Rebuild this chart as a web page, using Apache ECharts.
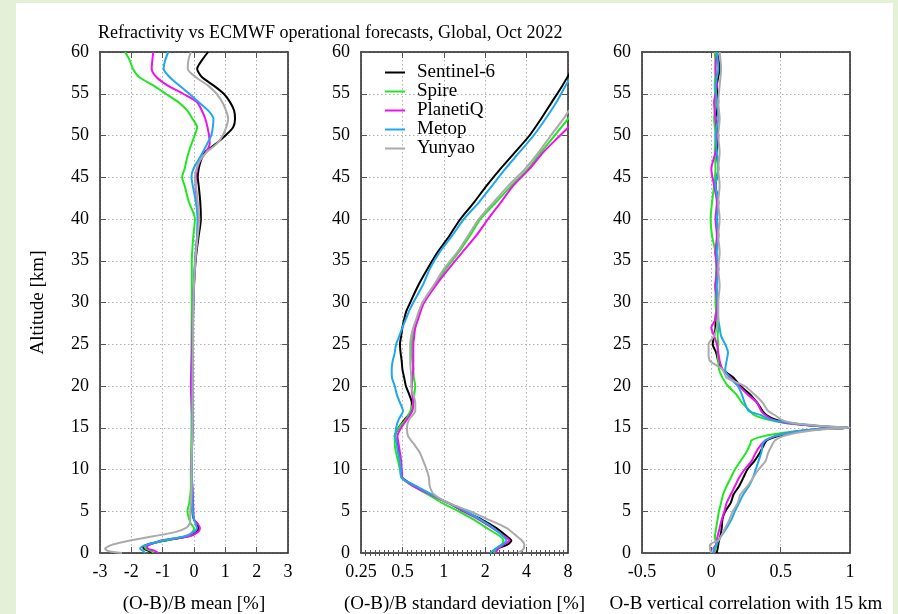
<!DOCTYPE html>
<html>
<head>
<meta charset="utf-8">
<script src="https://cdn.jsdelivr.net/npm/echarts@6/dist/echarts.min.js"></script>
<style>
  html, body { margin: 0; padding: 0; background: #e4f1d6; overflow: hidden; }
  .sheet { position: absolute; left: 16px; top: 3px; width: 877px; height: 611px; background: #fff; }
  #chart { position: absolute; left: 0; top: 0; width: 898px; height: 614px; }
</style>
</head>
<body>
<div class="sheet"></div>
<div id="chart"></div>
<script>
// names and colours of the missions
const missions = ['Sentinel-6', 'Spire', 'PlanetiQ', 'Metop', 'Yunyao'];
const colors = ['#000000', '#22e622', '#ee11ee', '#1ea8ee', '#aaaaaa'];

// panel 1: (O-B)/B mean [%]
const altMean = [0, 0.25, 0.5, 0.75, 1, 1.5, 2, 2.5, 3, 3.5, 4, 5, 6, 8, 10, 15, 20, 25, 30, 35,
  38, 40, 42, 44, 45, 46, 47, 48, 49, 50, 51, 52, 53, 54, 55, 56, 57, 58, 59, 60];
const meanSentinel6 = [-1.3, -1.45, -1.6, -1.62, -1.5, -0.9, -0.2, 0.08, 0.14, 0.1,
  0.0, -0.05, -0.05, -0.06, -0.08, -0.05, -0.05, -0.04, -0.02, 0.05,
  0.15, 0.22, 0.2, 0.15, 0.12, 0.15, 0.22, 0.35, 0.7, 1.0,
  1.25, 1.31, 1.28, 1.15, 0.95, 0.62, 0.25, 0.1, 0.25, 0.45];
const meanSpire = [-1.3, -1.37, -1.53, -1.56, -1.45, -0.95, -0.23, -0.05, 0.0, -0.1,
  -0.15, -0.21, -0.15, -0.1, -0.1, -0.08, -0.08, -0.08, -0.07, -0.07,
  -0.02, 0.03, -0.16, -0.3, -0.38, -0.3, -0.24, -0.17, -0.08, 0.02,
  0.1, -0.05, -0.22, -0.5, -0.9, -1.3, -1.75, -1.95, -2.05, -2.2];
const meanPlanetiQ = [-1.14, -1.25, -1.46, -1.5, -1.4, -1.05, -0.15, 0.12, 0.19, 0.12,
  0.0, -0.02, -0.03, -0.05, -0.08, -0.05, -0.1, -0.06, -0.03, 0.04,
  0.1, 0.12, 0.1, 0.05, 0.06, 0.1, 0.19, 0.38, 0.5, 0.48,
  0.43, 0.36, 0.25, 0.09, -0.35, -0.85, -1.2, -1.35, -1.33, -1.3];
const meanMetop = [-1.56, -1.62, -1.72, -1.67, -1.5, -1.0, -0.3, -0.02, 0.09, 0.05,
  0.0, -0.04, -0.05, -0.06, -0.07, -0.05, -0.05, -0.04, -0.02, 0.03,
  0.1, 0.12, 0.06, -0.04, -0.08, -0.02, 0.13, 0.28, 0.42, 0.55,
  0.6, 0.62, 0.45, 0.15, -0.15, -0.47, -0.78, -0.97, -0.92, -0.82];
const meanYunyao = [-2.3, -2.74, -2.84, -2.75, -2.6, -2.04, -1.3, -0.6, -0.25, -0.14,
  -0.12, -0.12, -0.1, -0.08, -0.08, -0.05, -0.04, -0.03, -0.02, 0.04,
  0.12, 0.17, 0.12, 0.06, 0.03, 0.08, 0.19, 0.4, 0.72, 0.92,
  1.03, 1.09, 1.02, 0.9, 0.72, 0.44, 0.05, -0.2, -0.18, -0.1];

// panel 2: (O-B)/B standard deviation [%]
const altStd = [0, 0.5, 1, 1.5, 2, 3, 4, 5, 6, 7, 8, 9, 10, 11, 12, 13, 14, 15, 16, 17,
  18, 19, 20, 21, 22, 23, 24, 25, 26, 27, 28, 29, 30, 32, 34, 36, 38, 40, 42, 44,
  46, 48, 50, 52, 54, 56, 58, 60];
const stdSentinel6 = [2.25, 2.4, 2.9, 3.1, 2.87, 2.4, 1.89, 1.4, 1.08, 0.8,
  0.62, 0.5, 0.49, 0.48, 0.47, 0.46, 0.44, 0.47, 0.52, 0.58,
  0.585, 0.56, 0.53, 0.515, 0.5, 0.494, 0.485, 0.48, 0.49, 0.5,
  0.515, 0.535, 0.57, 0.65, 0.76, 0.9, 1.1, 1.32, 1.66, 2.05,
  2.58, 3.3, 4.2, 5.1, 6.1, 7.3, 8.6, 10.2];
const stdSpire = [2.3, 2.4, 2.64, 2.71, 2.56, 2.05, 1.65, 1.28, 0.97, 0.77,
  0.6, 0.494, 0.48, 0.465, 0.45, 0.44, 0.44, 0.47, 0.53, 0.57,
  0.6, 0.61, 0.62, 0.605, 0.6, 0.59, 0.585, 0.585, 0.595, 0.62,
  0.64, 0.67, 0.71, 0.85, 1.03, 1.28, 1.55, 1.85, 2.4, 3.1,
  4.1, 5.1, 6.4, 8.0, 9.8, 11.5, 13, 15];
const stdPlanetiQ = [2.37, 2.49, 2.71, 3.0, 2.75, 2.25, 1.8, 1.4, 1.07, 0.8,
  0.6, 0.5, 0.494, 0.49, 0.48, 0.47, 0.46, 0.49, 0.54, 0.59,
  0.6, 0.59, 0.585, 0.59, 0.6, 0.6, 0.6, 0.6, 0.61, 0.62,
  0.65, 0.68, 0.72, 0.87, 1.08, 1.36, 1.72, 2.1, 2.6, 3.2,
  4.2, 5.3, 7.0, 9.2, 11, 13, 15, 17];
const stdMetop = [2.17, 2.37, 2.64, 2.85, 2.7, 2.3, 1.85, 1.45, 1.08, 0.82,
  0.63, 0.494, 0.485, 0.48, 0.465, 0.455, 0.445, 0.45, 0.47, 0.505,
  0.48, 0.455, 0.44, 0.42, 0.418, 0.425, 0.44, 0.45, 0.475, 0.5,
  0.53, 0.56, 0.6, 0.7, 0.79, 0.93, 1.15, 1.4, 1.8, 2.25,
  2.8, 3.55, 4.5, 5.5, 6.6, 7.7, 9.2, 10.8];
const stdYunyao = [3.5, 3.8, 3.85, 3.7, 3.4, 2.85, 2.11, 1.55, 1.08, 0.85,
  0.79, 0.78, 0.75, 0.71, 0.67, 0.61, 0.55, 0.54, 0.56, 0.62,
  0.62, 0.6, 0.58, 0.58, 0.575, 0.57, 0.57, 0.57, 0.58, 0.6,
  0.63, 0.66, 0.7, 0.84, 1.0, 1.25, 1.5, 1.8, 2.3, 2.95,
  3.9, 4.9, 6.0, 7.4, 9.0, 10.8, 12.5, 14.5];

// panel 3: O-B vertical correlation with 15 km
const altCorr = [0, 0.5, 1, 1.5, 2, 3, 4, 5, 6, 7, 8, 9, 10, 11, 12, 13, 13.5, 14, 14.4, 14.7,
  14.85, 15, 15.15, 15.3, 15.6, 16, 16.5, 17, 18, 19, 20, 21, 22, 23, 24, 25, 26, 27, 28, 30,
  32, 34, 36, 38, 40, 42, 44, 46, 48, 50, 52, 54, 56, 58, 60];
const corrSentinel6 = [0.038, 0.045, 0.05, 0.055, 0.065, 0.075, 0.08, 0.1, 0.14, 0.16,
  0.2, 0.23, 0.26, 0.31, 0.35, 0.38, 0.4, 0.48, 0.58, 0.7,
  0.8, 1.0, 0.8, 0.7, 0.55, 0.46, 0.4, 0.37, 0.33, 0.28,
  0.21, 0.16, 0.08, 0.05, 0.035, 0.01, 0.02, 0.03, 0.03, 0.04,
  0.03, 0.05, 0.03, 0.05, 0.04, 0.05, 0.03, 0.05, 0.04, 0.05,
  0.03, 0.05, 0.04, 0.06, 0.04];
const corrSpire = [0.014, 0.03, 0.038, 0.03, 0.026, 0.035, 0.045, 0.055, 0.07, 0.085,
  0.11, 0.14, 0.17, 0.21, 0.25, 0.28, 0.29, 0.38, 0.52, 0.68,
  0.8, 1.0, 0.82, 0.71, 0.52, 0.4, 0.31, 0.28, 0.22, 0.18,
  0.12, 0.08, 0.055, 0.05, 0.045, 0.05, 0.045, 0.05, 0.04, 0.03,
  0.03, 0.035, 0.03, 0.005, -0.005, 0.005, 0.02, 0.03, 0.025, 0.03,
  0.02, 0.03, 0.025, 0.03, 0.025];
const corrPlanetiQ = [0.026, 0.014, 0.035, 0.04, 0.045, 0.06, 0.075, 0.095, 0.11, 0.14,
  0.17, 0.2, 0.24, 0.29, 0.32, 0.36, 0.39, 0.46, 0.56, 0.68,
  0.8, 1.0, 0.8, 0.7, 0.53, 0.44, 0.39, 0.36, 0.33, 0.26,
  0.2, 0.14, 0.08, 0.06, 0.05, 0.04, 0.02, 0.0, 0.03, 0.04,
  0.03, 0.04, 0.03, 0.04, 0.03, 0.04, 0.02, 0.0, 0.03, 0.04,
  0.03, 0.02, 0.04, 0.03, 0.04];
const corrMetop = [0.014, 0.02, 0.038, 0.05, 0.07, 0.11, 0.145, 0.17, 0.2, 0.23,
  0.27, 0.3, 0.32, 0.34, 0.36, 0.37, 0.39, 0.46, 0.56, 0.68,
  0.8, 1.0, 0.82, 0.72, 0.56, 0.42, 0.36, 0.27, 0.24, 0.22,
  0.19, 0.13, 0.1, 0.11, 0.12, 0.1, 0.07, 0.06, 0.05, 0.045,
  0.04, 0.05, 0.04, 0.05, 0.04, 0.05, 0.03, 0.05, 0.04, 0.03,
  0.05, 0.04, 0.03, 0.05, 0.04];
const corrYunyao = [0.0, -0.01, -0.01, 0.05, 0.07, 0.1, 0.13, 0.155, 0.19, 0.21,
  0.26, 0.3, 0.34, 0.39, 0.41, 0.44, 0.46, 0.52, 0.62, 0.74,
  0.84, 1.0, 0.84, 0.74, 0.58, 0.5, 0.46, 0.41, 0.37, 0.31,
  0.24, 0.11, 0.08, -0.01, -0.02, -0.02, 0.02, 0.04, 0.05, 0.05,
  0.06, 0.05, 0.06, 0.05, 0.06, 0.05, 0.06, 0.05, 0.06, 0.05,
  0.06, 0.05, 0.06, 0.07, 0.06];

const panelValues = [
  [meanSentinel6, meanSpire, meanPlanetiQ, meanMetop, meanYunyao],
  [stdSentinel6, stdSpire, stdPlanetiQ, stdMetop, stdYunyao],
  [corrSentinel6, corrSpire, corrPlanetiQ, corrMetop, corrYunyao]
];
const panelAlts = [altMean, altStd, altCorr];
const xNames = ['(O-B)/B mean [%]', '(O-B)/B standard deviation [%]', 'O-B vertical correlation with 15 km'];

const serif = 'Liberation Serif';
const frame = { show: true, onZero: false, lineStyle: { color: '#222', width: 1.5 } };
const dots = { show: true, lineStyle: { color: '#b0b0b0', width: 1, type: [1.5, 2.5] } };
const ticks = { show: true, inside: true, length: 6, lineStyle: { color: '#555', width: 1 } };

const grids = [
  { left: 100, top: 52, width: 188, height: 501, outerBoundsMode: 'none' },
  { left: 361, top: 52, width: 207, height: 501, outerBoundsMode: 'none' },
  { left: 642, top: 52, width: 208, height: 501, outerBoundsMode: 'none' }
];

const xScales = [
  { type: 'value', min: -3, max: 3, interval: 1 },
  { type: 'log', logBase: 2, min: 0.25, max: 8 },
  { type: 'value', min: -0.5, max: 1, interval: 0.5 }
];

let xAxes = [], yAxes = [], series = [];
for (let p = 0; p < 3; p++) {
  xAxes.push(Object.assign({}, xScales[p], {
    gridIndex: p, position: 'bottom',
    axisLine: frame, axisTick: ticks, splitLine: dots,
    axisLabel: { fontFamily: serif, fontSize: 18, color: '#000', margin: 10 },
    name: xNames[p], nameLocation: 'middle', nameGap: 42,
    nameTextStyle: { fontFamily: serif, fontSize: 19, color: '#000' }
  }));
  xAxes.push(Object.assign({}, xScales[p], {
    gridIndex: p, position: 'top',
    axisLine: frame, axisTick: ticks, splitLine: { show: false },
    axisLabel: { show: false }
  }));
  yAxes.push({
    type: 'value', min: 0, max: 60, interval: 5, gridIndex: p, position: 'left',
    axisLine: frame, axisTick: ticks, splitLine: dots,
    axisLabel: { fontFamily: serif, fontSize: 18, color: '#000', margin: 11 },
    name: p === 0 ? 'Altitude [km]' : '', nameLocation: 'middle', nameRotate: 90, nameGap: 52,
    nameTextStyle: { fontFamily: serif, fontSize: 19, color: '#000' }
  });
  yAxes.push({
    type: 'value', min: 0, max: 60, interval: 5, gridIndex: p, position: 'right',
    axisLine: frame, axisTick: ticks, splitLine: { show: false }, axisLabel: { show: false }
  });

  panelValues[p].forEach(function (vals, s) {
    series.push({
      name: missions[s],
      type: 'line',
      xAxisIndex: p * 2,
      yAxisIndex: p * 2,
      data: vals.map(function (v, i) { return [v, panelAlts[p][i]]; }),
      showSymbol: false,
      smooth: 0.25,
      clip: true,
      lineStyle: { color: colors[s], width: 2 },
      itemStyle: { color: colors[s] },
      emphasis: { disabled: true },
      z: 2 + s
    });
  });
}

// minor ticks of the log axis, drawn in log2 space (-2 .. 3), top and bottom
['bottom', 'top'].forEach(function (pos) {
  xAxes.push({
    type: 'value', gridIndex: 1, position: pos, min: -2, max: 3, interval: 1,
    axisLine: { show: false }, axisTick: { show: false, inside: true }, axisLabel: { show: false },
    splitLine: { show: false },
    minorTick: { show: true, splitNumber: 9, length: 3, lineStyle: { color: '#555', width: 1 } }
  });
});

let chart = echarts.init(document.getElementById('chart'), null, { renderer: 'canvas' });
chart.setOption({
  backgroundColor: 'transparent',
  animation: false,
  title: {
    text: 'Refractivity vs ECMWF operational forecasts, Global, Oct 2022',
    left: 98, top: 24, padding: 0,
    textStyle: { fontFamily: serif, fontSize: 18, fontWeight: 'normal', color: '#000' }
  },
  legend: {
    data: missions,
    orient: 'vertical',
    left: 385, top: 63,
    icon: 'rect', itemWidth: 20, itemHeight: 2, itemGap: 0,
    padding: 0,
    selectedMode: false,
    textStyle: { fontFamily: serif, fontSize: 19, color: '#000', lineHeight: 18.7, padding: [0, 0, 0, 7] }
  },
  grid: grids,
  xAxis: xAxes,
  yAxis: yAxes,
  series: series
});
</script>
</body>
</html>
